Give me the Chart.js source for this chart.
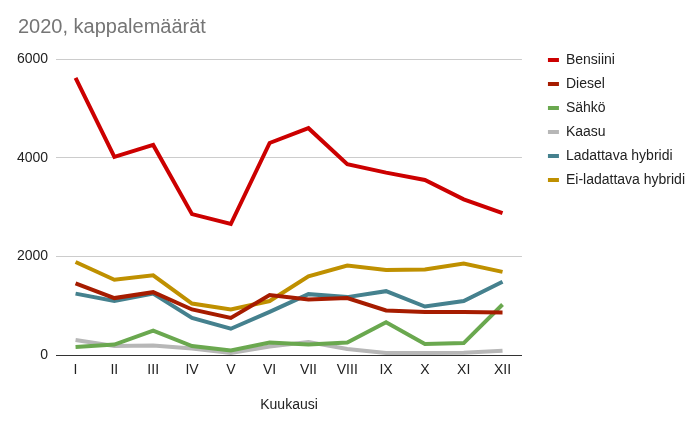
<!DOCTYPE html>
<html>
<head>
<meta charset="utf-8">
<script src="https://cdn.jsdelivr.net/npm/chart.js@4"></script>
<style>
  body { margin: 0; background: #fff; }
  #wrap { width: 697px; height: 421px; }
</style>
</head>
<body>
<div id="wrap"><canvas id="lineChart"></canvas></div>
<script>
const months = ['I', 'II', 'III', 'IV', 'V', 'VI', 'VII', 'VIII', 'IX', 'X', 'XI', 'XII'];
const yTicks = [0, 2000, 4000, 6000];

const bensiini = [5620, 4020, 4260, 2860, 2660, 4300, 4600, 3870, 3700, 3550, 3160, 2880];
const diesel = [1460, 1160, 1280, 930, 760, 1220, 1130, 1160, 910, 880, 880, 870];
const sahko = [170, 220, 500, 190, 100, 260, 220, 260, 670, 230, 250, 1030];
const kaasu = [310, 190, 200, 140, 50, 180, 270, 130, 50, 50, 55, 95];
const ladattava = [1250, 1100, 1250, 760, 540, 880, 1240, 1180, 1300, 990, 1100, 1490];
const eiLadattava = [1890, 1530, 1620, 1050, 930, 1100, 1600, 1820, 1730, 1740, 1860, 1690];

const font = "'Liberation Sans', Arial, sans-serif";

function serie(label, data, color) {
  return {
    label: label,
    data: data,
    borderColor: color,
    backgroundColor: color,
    borderWidth: 4,
    pointRadius: 0,
    tension: 0,
  };
}

// siirretään otsikkoa ja selitettä hieman layoutin jälkeen
const nudge = {
  id: 'nudge',
  afterLayout: function (chart) {
    const t = chart.titleBlock;
    t.left += 9; t.right += 9;
    const l = chart.legend;
    l.left += 16; l.right += 16;
    l.top += 38;
  },
};

const ctx = document.getElementById('lineChart').getContext('2d');
const chart = new Chart(ctx, {
  type: 'line',
  data: {
    labels: months,
    datasets: [
      serie('Bensiini', bensiini, '#cc0000'),
      serie('Diesel', diesel, '#a61c00'),
      serie('Sähkö', sahko, '#6aa84f'),
      serie('Kaasu', kaasu, '#b7b7b7'),
      serie('Ladattava hybridi', ladattava, '#45818e'),
      serie('Ei-ladattava hybridi', eiLadattava, '#bf9000'),
    ],
  },
  plugins: [nudge],
  options: {
    responsive: true,
    maintainAspectRatio: false,
    animation: false,
    layout: {
      padding: { top: 5, left: 9, right: 18, bottom: 3 },
    },
    plugins: {
      title: {
        display: true,
        text: '2020, kappalemäärät',
        align: 'start',
        color: '#757575',
        font: { family: font, size: 20, weight: 'normal' },
        padding: { top: 10, bottom: 20 },
      },
      legend: {
        position: 'right',
        align: 'start',
        labels: {
          color: '#222222',
          font: { family: font, size: 14 },
          boxWidth: 11,
          boxHeight: 4,
          padding: 10,
          generateLabels: function (chart) {
            const items = Chart.defaults.plugins.legend.labels.generateLabels(chart);
            items.forEach(function (item) { item.lineWidth = 0; });
            return items;
          },
        },
      },
      tooltip: { enabled: false },
    },
    scales: {
      x: {
        offset: true,
        grid: { display: false, drawTicks: false },
        border: { color: '#333333' },
        ticks: { color: '#222222', font: { family: font, size: 14 }, padding: 6 },
        title: {
          display: true,
          text: 'Kuukausi',
          color: '#222222',
          font: { family: font, size: 14 },
          padding: { top: 13 },
        },
      },
      y: {
        min: 0,
        max: 6000,
        afterBuildTicks: function (axis) {
          axis.ticks = yTicks.map(function (v) { return { value: v }; });
        },
        grid: { color: '#cccccc', drawTicks: false },
        border: { display: false },
        ticks: {
          color: '#222222',
          font: { family: font, size: 14 },
          padding: 8,
          callback: function (value) { return String(value); },
        },
      },
    },
  },
});
</script>
</body>
</html>
